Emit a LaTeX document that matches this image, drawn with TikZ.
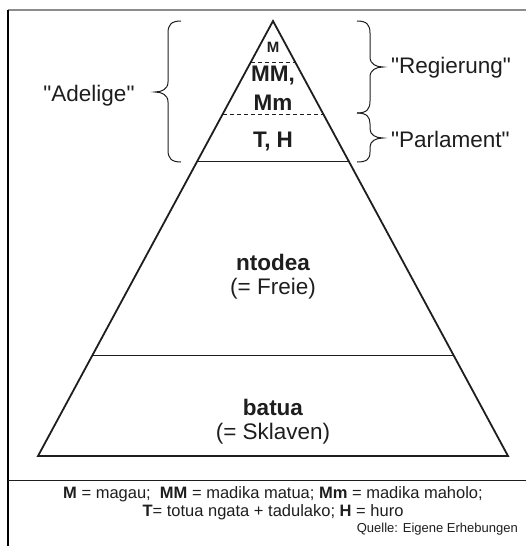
\documentclass[tikz,border=0pt]{standalone}
\usepackage{fontspec}
\setmainfont{Liberation Sans}[Ligatures=TeXOff]
\usetikzlibrary{calc}
\definecolor{frgray}{HTML}{8C8C8C}
\definecolor{ink}{HTML}{1E1E1E}
\begin{document}
\begin{tikzpicture}[x=1pt,y=-1pt,
  big/.style={font=\fontsize{22.5}{27}\selectfont, inner sep=0pt, text=ink},
  bigb/.style={font=\fontsize{22.5}{27}\selectfont\bfseries, inner sep=0pt, text=ink},
  legend/.style={font=\fontsize{16.5}{19}\selectfont, inner sep=0pt, text=ink},
  tri/.style={line width=1.8pt, draw=ink, line join=miter},
  divider/.style={line width=1pt, draw=ink},
  dividerd/.style={line width=1pt, draw=ink, dash pattern=on 4pt off 3pt},
  bracepath/.style={line width=1pt, draw=ink}]
\useasboundingbox (0,0) rectangle (526,546);
% frame
\draw[frgray, line width=2.2pt] (8,10) -- (526,10);
\draw[black, line width=1.5pt] (8,10) -- (8,546);
\draw[line width=1pt, draw=ink] (8,480) -- (526,480);
% pyramid
\coordinate (apex) at (273,21);
\coordinate (bl) at (38,456);
\coordinate (br) at (508,456);
\draw[tri] (apex) -- (bl) -- (br) -- cycle;
\draw[dividerd] ($(apex)!0.0943!(bl)$) -- ($(apex)!0.0943!(br)$);
\draw[dividerd] ($(apex)!0.2138!(bl)$) -- ($(apex)!0.2138!(br)$);
\draw[divider] ($(apex)!0.3241!(bl)$) -- ($(apex)!0.3241!(br)$);
\draw[divider] ($(apex)!0.7678!(bl)$) -- ($(apex)!0.7678!(br)$);
% level labels
\node[font=\fontsize{15}{17}\selectfont\bfseries, inner sep=0pt, text=ink] (m) at (273,47) {M};
\node[bigb] (mm) at (273,76) {MM,};
\node[bigb] (mmm) at (273,103) {Mm};
\node[bigb] (th) at (273,141) {T, H};
\node[bigb] (nt) at (273,262) {ntodea};
\node[big] (fr) at (273,289) {(= Freie)};
\node[bigb] (ba) at (273,407) {batua};
\node[big] (sk) at (273,434) {(= Sklaven)};
% braces
\draw[bracepath] (181,21) .. controls (171,21) and (168,25) .. (168,33) -- (168,82)
  .. controls (168,89) and (162,92) .. (155,92)
  .. controls (162,92) and (168,95) .. (168,102) -- (168,150)
  .. controls (168,158) and (171,162) .. (181,162);
\draw[bracepath] (357,21) .. controls (367,21) and (370,25) .. (370,33) -- (370,57)
  .. controls (370,64) and (376,67) .. (383,67)
  .. controls (376,67) and (370,70) .. (370,77) -- (370,101)
  .. controls (370,109) and (367,113) .. (357,113);
\draw[bracepath] (357,113) .. controls (367,113) and (370,117) .. (370,124) -- (370,129)
  .. controls (370,135) and (376,138) .. (383,138)
  .. controls (376,138) and (370,141) .. (370,147) -- (370,152)
  .. controls (370,159) and (367,162) .. (357,162);
\node[big] (adel) at (89,96) {"Adelige"};
\node[big, anchor=west] (reg) at (391,68) {"Regierung"};
\node[big, anchor=west] (parl) at (391,139) {"Parlament"};
% legend
\node[legend] (leg1) at (273,494) {\textbf{M} = magau;\ \ \textbf{MM} = madika matua; \textbf{Mm} = madika maholo;};
\node[legend] (leg2) at (273,512) {\textbf{T}= totua ngata + tadulako; \textbf{H} = huro};
\node[font=\fontsize{13}{15}\selectfont, inner sep=0pt, text=ink, anchor=east] (src) at (518,529) {Quelle: Eigene Erhebungen};
\end{tikzpicture}
\end{document}
